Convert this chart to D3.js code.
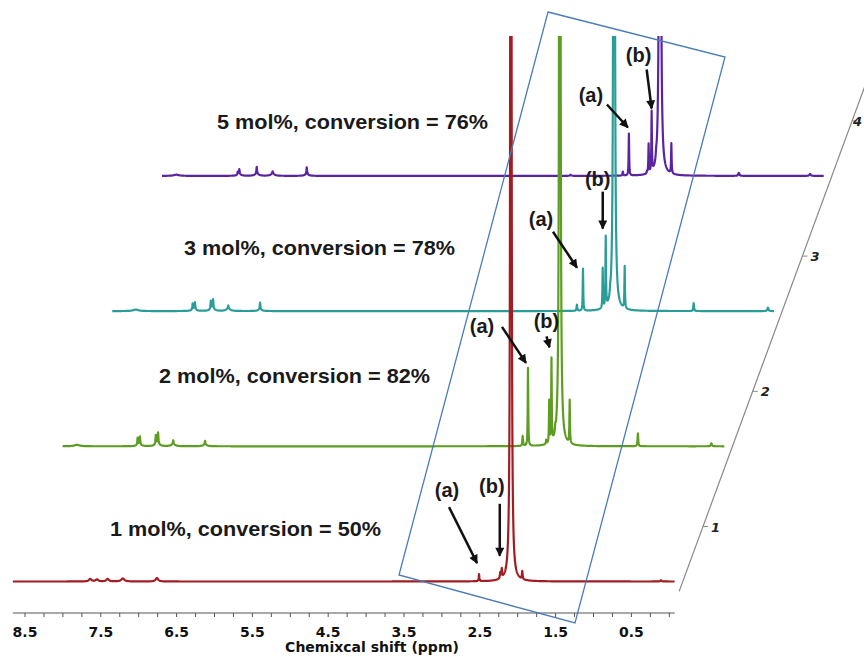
<!DOCTYPE html>
<html><head><meta charset="utf-8">
<script src="https://cdn.jsdelivr.net/npm/d3@7/dist/d3.min.js"></script>
<style>body{margin:0;background:#fff}svg{display:block;background:#fff}</style>
</head><body>
<svg id="chart" width="864" height="657"></svg>
<script>
// ---------------- data ----------------
const seriesNames = ["1 mol%", "2 mol%", "3 mol%", "5 mol%"];
const conversions = [50, 82, 78, 76];
const seriesColors = ["#a11d22", "#5e9c22", "#2b9d99", "#5a24a0"];
const xTickValues = [8.5, 7.5, 6.5, 5.5, 4.5, 3.5, 2.5, 1.5, 0.5];
const depthTickValues = [1, 2, 3, 4];
const ppmRange = [8.66, -0.07];
// peaks: [chemical shift (ppm), relative intensity, half width (ppm)]
const peaks1 = [
  [7.64, 2.5, 0.02], [7.55, 2, 0.02], [7.41, 2.5, 0.02], [7.21, 3, 0.025], [6.76, 3.5, 0.02],
  [2.51, 7, 0.005], [2.23, 6, 0.006], [2.21, 9, 0.005], [2.09, 3000, 0.0045], [1.94, 8, 0.005], [0.11, 1.2, 0.01]
];
const peaks2 = [
  [8.47, 1.5, 0.04], [7.67, 7, 0.005], [7.64, 8, 0.005], [7.65, 2, 0.03], [7.43, 9, 0.005], [7.40, 11, 0.005],
  [7.41, 3, 0.03], [7.20, 4, 0.006], [7.20, 2, 0.03], [6.78, 4, 0.006], [6.78, 1.5, 0.03],
  [2.59, 10, 0.005], [2.52, 78, 0.004], [2.28, 4, 0.005], [2.24, 42, 0.004], [2.21, 83, 0.004],
  [2.16, 6, 0.006], [2.10, 3000, 0.0045], [1.97, 43, 0.004], [1.07, 13, 0.005], [0.10, 3, 0.008]
];
const peaks3 = [
  [8.35, 1.5, 0.04], [7.60, 6, 0.005], [7.57, 7, 0.005], [7.58, 2, 0.03], [7.36, 8, 0.005], [7.33, 9, 0.005],
  [7.34, 3, 0.03], [7.13, 3, 0.006], [7.13, 2.5, 0.03], [6.71, 7, 0.005], [6.71, 1.5, 0.03],
  [2.53, 6, 0.005], [2.45, 42, 0.004], [2.19, 40, 0.004], [2.15, 70, 0.004], [2.09, 5, 0.006],
  [2.04, 3000, 0.0045], [1.90, 42, 0.004], [0.99, 8, 0.005], [0.01, 3.5, 0.008]
];
const peaks5 = [
  [8.47, 1.2, 0.04], [7.66, 3, 0.005], [7.64, 5, 0.005], [7.64, 1.5, 0.03], [7.41, 7, 0.005], [7.41, 2, 0.03],
  [7.20, 2.5, 0.006], [7.20, 2, 0.03], [6.75, 7, 0.005], [6.75, 1.5, 0.03], [3.27, 1, 0.01],
  [2.58, 4, 0.005], [2.50, 42, 0.004], [2.26, 2, 0.005], [2.24, 29, 0.004], [2.20, 60, 0.004],
  [2.14, 5, 0.006], [2.09, 3000, 0.0045], [1.94, 30, 0.004], [1.05, 3, 0.008], [0.11, 2, 0.01]
];
const seriesPeaks = [peaks1, peaks2, peaks3, peaks5];
// annotated signals (a) and (b), ppm per spectrum
const peakA = [2.51, 2.52, 2.45, 2.50];
const peakB = [2.21, 2.21, 2.15, 2.20];

// ---------------- layout ----------------
const svg = d3.select("#chart");
const W = 864, H = 657;
const x = d3.scaleLinear().domain([8.5, 0.5]).range([25, 631.4]);
const depthX = d3.scaleLinear().domain([1, 4]).range([0, 149.1]);
const depthY = d3.scaleLinear().domain([1, 4]).range([0, -405.6]);
const inten = d3.scaleLinear().domain([0, 100]).range([0, 100]);
const baseY = 581.5, axisY = 613;

function intensityAt(peaks, p) {
  return d3.sum(peaks, q => q[1] / (1 + ((p - q[0]) / q[2]) ** 2));
}
function spectrumPoints(peaks) {
  const grid = d3.range(ppmRange[0], ppmRange[1], -0.0025)
    .concat(peaks.map(q => q[0]), [ppmRange[1]]);
  grid.sort((a, b) => b - a);
  return grid.map(p => [p, intensityAt(peaks, p)]);
}

svg.append("defs").append("clipPath").attr("id", "clipTop")
  .append("rect").attr("x", 0).attr("y", 36).attr("width", W).attr("height", H - 36);
svg.select("defs").append("marker").attr("id", "arrow")
  .attr("viewBox", "0 0 10 10").attr("refX", 9).attr("refY", 5)
  .attr("markerUnits", "userSpaceOnUse").attr("markerWidth", 10).attr("markerHeight", 9)
  .attr("orient", "auto")
  .append("path").attr("d", "M0,0 L10,5 L0,10 Z").attr("fill", "#111");

// spectra (back to front)
const specG = svg.append("g").attr("clip-path", "url(#clipTop)");
const order = [3, 2, 1, 0];
order.forEach(i => {
  const z = i + 1;
  const line = d3.line()
    .x(d => x(d[0]) + depthX(z))
    .y(d => baseY + depthY(z) - inten(d[1]));
  specG.append("path")
    .attr("d", line(spectrumPoints(seriesPeaks[i])))
    .attr("fill", "none").attr("stroke", seriesColors[i])
    .attr("stroke-width", 2.2).attr("stroke-linejoin", "round");
});

// bottom axis
const axisG = svg.append("g").attr("transform", `translate(0,${axisY})`);
axisG.append("line").attr("x1", x(ppmRange[0])).attr("x2", x(ppmRange[1]))
  .attr("stroke", "#555").attr("stroke-width", 1.2);
const minorTicks = d3.range(8.5, -0.01, -0.25);
axisG.selectAll(".mt").data(minorTicks).join("line")
  .attr("x1", d => x(d)).attr("x2", d => x(d)).attr("y1", 0).attr("y2", 4)
  .attr("stroke", "#555").attr("stroke-width", 1);
axisG.selectAll(".tl").data(xTickValues).join("text")
  .attr("x", d => x(d)).attr("y", 24).attr("text-anchor", "middle")
  .attr("font-family", "DejaVu Sans, Verdana, sans-serif").attr("font-weight", "bold")
  .attr("font-size", 14).attr("fill", "#111").text(d => d.toFixed(1));
svg.append("text").attr("x", 372).attr("y", 652).attr("text-anchor", "middle")
  .attr("font-family", "DejaVu Sans, Verdana, sans-serif").attr("font-weight", "bold")
  .attr("font-size", 14).attr("fill", "#111").text("Chemixcal shift (ppm)");

// depth axis
const dOrigin = [703, 526.5];
const dPt = t => [dOrigin[0] + depthX(t), dOrigin[1] + depthY(t)];
const d0 = dPt(0.52), d1 = dPt(4.8);
svg.append("line").attr("x1", d0[0]).attr("y1", d0[1]).attr("x2", d1[0]).attr("y2", d1[1])
  .attr("stroke", "#888").attr("stroke-width", 1.2);
depthTickValues.forEach(t => {
  const p = dPt(t);
  svg.append("line").attr("x1", p[0]).attr("y1", p[1]).attr("x2", p[0] + 5).attr("y2", p[1])
    .attr("stroke", "#888").attr("stroke-width", 1);
  const txt = svg.append("text").attr("x", p[0] + 8).attr("y", p[1] + 5)
    .attr("font-family", "DejaVu Sans, Verdana, sans-serif").attr("font-weight", "bold")
    .attr("font-style", "italic").attr("font-size", 13).attr("fill", "#222").text(t);
  const bb = txt.node().getBBox();
  if (bb.x + bb.width > W - 1) txt.attr("x", W - 1 - bb.width);
});

// highlight box
const boxPts = [[548, 12], [725, 57], [575, 623], [399, 575]];
svg.append("polygon").attr("points", boxPts.map(p => p.join(",")).join(" "))
  .attr("fill", "none").attr("stroke", "#4a7db5").attr("stroke-width", 1.3);

// spectrum labels
const labelPos = [[110, 535.5], [159, 382.5], [184, 254.5], [217, 129]];
seriesNames.forEach((s, i) => {
  svg.append("text").attr("x", labelPos[i][0]).attr("y", labelPos[i][1])
    .attr("font-family", "Liberation Sans, Arial, sans-serif").attr("font-weight", "bold")
    .attr("font-size", 20.5).attr("fill", "#1a1a1a")
    .attr("textLength", 271).attr("lengthAdjust", "spacingAndGlyphs")
    .text(`${s}, conversion = ${conversions[i]}%`);
});

// annotations: tip gap from apex, tail vector from tip, label offset from tail
const annLayout = [
  {a: {gap: [-2, -11], tail: [-28, -56], lab: [-2, -10]}, b: {gap: [-2, -12], tail: [0, -52], lab: [-8, -11]}},
  {a: {gap: [-2, -5], tail: [-24, -36], lab: [-20, 6]}, b: {gap: [-2, -10], tail: [-3, -11], lab: [0, -8]}},
  {a: {gap: [-6, -1], tail: [-24, -36], lab: [-12, -6]}, b: {gap: [-3, -7], tail: [0, -37], lab: [-5, -6]}},
  {a: {gap: [-1, -6], tail: [-21, -23], lab: [-16, -3]}, b: {gap: [0, -2], tail: [-5, -39], lab: [-8, -8]}}
];
const annG = svg.append("g");
[0, 1, 2, 3].forEach(i => {
  const z = i + 1;
  [["(a)", peakA[i], annLayout[i].a], ["(b)", peakB[i], annLayout[i].b]].forEach(([lab, ppm, L]) => {
    const ax = x(ppm) + depthX(z);
    const ay = baseY + depthY(z) - inten(intensityAt(seriesPeaks[i], ppm));
    const tip = [ax + L.gap[0], ay + L.gap[1]];
    const tail = [tip[0] + L.tail[0], tip[1] + L.tail[1]];
    annG.append("line").attr("x1", tail[0]).attr("y1", tail[1]).attr("x2", tip[0]).attr("y2", tip[1])
      .attr("stroke", "#111").attr("stroke-width", 2.5).attr("marker-end", "url(#arrow)");
    annG.append("text").attr("x", tail[0] + L.lab[0]).attr("y", tail[1] + L.lab[1])
      .attr("text-anchor", "middle")
      .attr("font-family", "Liberation Sans, Arial, sans-serif").attr("font-weight", "bold")
      .attr("font-size", 20).attr("fill", "#1a1a1a").text(lab);
  });
});
</script>
</body></html>
